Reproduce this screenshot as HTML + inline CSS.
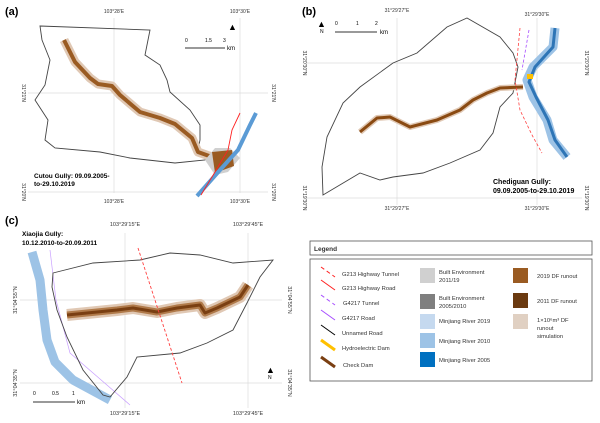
<!DOCTYPE html>
<html><head><meta charset="utf-8"><style>
body{margin:0;background:#fff}
svg{display:block;font-family:"Liberation Sans",sans-serif}
</style></head><body>
<svg width="600" height="423" viewBox="0 0 600 423">
<!-- Panel a -->
<g>
<text x="5" y="15" font-size="11" font-weight="bold">(a)</text>
<g stroke="#ddd" stroke-width="0.7">
<line x1="114" y1="18" x2="114" y2="193"/><line x1="240" y1="18" x2="240" y2="193"/>
<line x1="28" y1="93" x2="268" y2="93"/><line x1="28" y1="192" x2="268" y2="192"/>
</g>
<g font-size="5" fill="#333" text-anchor="middle">
<text x="114" y="13">103°28′E</text><text x="240" y="13">103°30′E</text>
<text x="114" y="203">103°28′E</text><text x="240" y="203">103°30′E</text>
<text transform="translate(22,93) rotate(90)">31°21′N</text>
<text transform="translate(272,93) rotate(90)">31°21′N</text>
<text transform="translate(22,192) rotate(90)">31°20′N</text>
<text transform="translate(272,192) rotate(90)">31°20′N</text>
</g>
<path d="M40,26 L150,30 L147,45 L145,55 L160,65 L167,80 L170,92 L190,110 L200,125 L200,140 L198,150 L210,155 L205,160 L175,163 L130,158 L100,152 L55,148 L45,140 L48,120 L35,100 L45,85 L50,60 L42,40 Z" fill="none" stroke="#444" stroke-width="0.9"/>
<path d="M64,40 L75,62 L90,78 L98,84 L112,86 L120,95 L140,112 L160,118 L175,124 L192,138 L198,152 L212,157" fill="none" stroke="#e0c8b4" stroke-width="9" stroke-linejoin="round"/>
<path d="M64,40 L75,62 L90,78 L98,84 L112,86 L120,95 L140,112 L160,118 L175,124 L192,138 L198,152 L212,157" fill="none" stroke="#9a5b22" stroke-width="4" stroke-linejoin="round"/>
<path d="M205,160 L215,148 L230,148 L240,158 L228,172 L215,175 Z" fill="#d0d0d0"/>
<path d="M212,152 L232,150 L234,166 L215,173 Z" fill="#9a5b22"/>
<path d="M197,196 L220,170 L238,150 L250,125 L256,113" fill="none" stroke="#5b9bd5" stroke-width="4"/>
<path d="M201,195 L215,172 L228,150 L232,130 L240,113" fill="none" stroke="#ff2020" stroke-width="0.9"/>
<g><line x1="185" y1="48" x2="225" y2="48" stroke="#333"/><text x="185" y="42" font-size="5">0</text><text x="205" y="42" font-size="5">1.5</text><text x="223" y="42" font-size="5">3</text><text x="227" y="50" font-size="6">km</text></g>
<text x="228" y="30" font-size="9">▲</text>
<text x="34" y="178" font-size="6.5" font-weight="bold">Cutou Gully: 09.09.2005-</text>
<text x="34" y="186" font-size="6.5" font-weight="bold">to-29.10.2019</text>
</g>
<!-- Panel b -->
<g>
<text x="302" y="15" font-size="11" font-weight="bold">(b)</text>
<g stroke="#ddd" stroke-width="0.7">
<line x1="397" y1="18" x2="397" y2="205"/><line x1="537" y1="18" x2="537" y2="205"/>
<line x1="306" y1="63" x2="582" y2="63"/><line x1="306" y1="198" x2="582" y2="198"/>
</g>
<g font-size="5" fill="#333" text-anchor="middle">
<text x="397" y="12">31°29′27″E</text><text x="537" y="16">31°29′30″E</text>
<text x="397" y="210">31°29′27″E</text><text x="537" y="210">31°29′30″E</text>
<text transform="translate(303,63) rotate(90)">31°20′30″N</text>
<text transform="translate(585,63) rotate(90)">31°20′30″N</text>
<text transform="translate(303,198) rotate(90)">31°19′30″N</text>
<text transform="translate(585,198) rotate(90)">31°19′30″N</text>
</g>
<path d="M323,195 L322,167 L327,137 L343,103 L360,87 L393,63 L417,53 L447,27 L467,18 L500,37 L513,53 L518,67 L513,93 L500,107 L493,133 L480,150 L450,163 L423,173 L393,177 L380,180 L360,173 Z" fill="none" stroke="#444" stroke-width="0.9"/>
<path d="M360,132 L377,118 L390,117 L410,127 L437,120 L460,110 L473,100 L487,93 L500,88 L523,87" fill="none" stroke="#e0c8b4" stroke-width="6" stroke-linejoin="round"/>
<path d="M360,132 L377,118 L390,117 L410,127 L437,120 L460,110 L473,100 L487,93 L500,88 L523,87" fill="none" stroke="#8a4a12" stroke-width="3" stroke-linejoin="round"/>
<path d="M555,28 L553,47 L533,67 L527,80 L533,97 L547,120 L553,140 L567,157" fill="none" stroke="#9dc3e6" stroke-width="9" stroke-linejoin="round"/>
<path d="M555,28 L553,47 L535,67 L529,82 L536,97 L548,120 L555,140 L567,157" fill="none" stroke="#2e75b6" stroke-width="3" stroke-linejoin="round"/>
<path d="M520,28 L515,80 L520,110 L532,135 L542,153" fill="none" stroke="#ff4040" stroke-width="0.8" stroke-dasharray="3,2"/>
<path d="M529,30 L522,70" fill="none" stroke="#a64dff" stroke-width="0.8" stroke-dasharray="3,2"/>
<rect x="527" y="74" width="6" height="5" fill="#ffc000"/>
<g><line x1="335" y1="32" x2="377" y2="32" stroke="#333"/><text x="335" y="25" font-size="5">0</text><text x="356" y="25" font-size="5">1</text><text x="375" y="25" font-size="5">2</text><text x="380" y="34" font-size="6">km</text></g>
<text x="317" y="27" font-size="9">▲</text>
<text x="320" y="33" font-size="5">N</text>
<text x="493" y="184" font-size="7" font-weight="bold">Chediguan Gully:</text>
<text x="493" y="193" font-size="7" font-weight="bold">09.09.2005-to-29.10.2019</text>
</g>
<!-- Panel c -->
<g>
<text x="5" y="224" font-size="11" font-weight="bold">(c)</text>
<g stroke="#ddd" stroke-width="0.7">
<line x1="125" y1="233" x2="125" y2="408"/><line x1="248" y1="233" x2="248" y2="408"/>
<line x1="20" y1="300" x2="282" y2="300"/><line x1="20" y1="383" x2="282" y2="383"/>
</g>
<g font-size="5.5" fill="#333" text-anchor="middle">
<text x="125" y="226">103°29′15″E</text><text x="248" y="226">103°29′45″E</text>
<text x="125" y="415">103°29′15″E</text><text x="248" y="415">103°29′45″E</text>
<text transform="translate(17,300) rotate(-90)">31°04′55″N</text>
<text transform="translate(288,300) rotate(90)">31°04′55″N</text>
<text transform="translate(17,383) rotate(-90)">31°04′35″N</text>
<text transform="translate(288,383) rotate(90)">31°04′35″N</text>
</g>
<text x="22" y="236" font-size="6.5" font-weight="bold">Xiaojia Gully:</text>
<text x="22" y="245" font-size="6.5" font-weight="bold">10.12.2010-to-20.09.2011</text>
<path d="M32,252 L40,280 L43,310 L47,340 L55,362 L73,380 L110,400" fill="none" stroke="#9dc3e6" stroke-width="9" stroke-linejoin="round"/>
<path d="M50,250 L56,300 L70,353 L130,405" fill="none" stroke="#c9a0ff" stroke-width="0.7"/>
<path d="M53,273 L93,263 L140,260 L170,253 L200,255 L233,263 L273,260 L260,277 L247,303 L233,330 L207,343 L180,353 L137,357 L127,377 L110,397 L103,395 L83,370 L67,337 L57,310 L52,287 Z" fill="none" stroke="#444" stroke-width="0.9"/>
<path d="M67,315 L87,313 L117,310 L133,308 L157,312 L177,308 L200,305 L205,313 L217,308 L240,297 L248,285" fill="none" stroke="#e0c8b4" stroke-width="12" stroke-linejoin="round"/>
<path d="M67,315 L87,313 L117,310 L133,308 L157,312 L177,308 L200,305 L205,313 L217,308 L240,297 L248,285" fill="none" stroke="#b07a4a" stroke-width="7" stroke-linejoin="round"/>
<path d="M67,315 L87,313 L117,310 L133,308 L157,312 L177,308 L200,305 L205,313 L217,308 L240,297 L248,285" fill="none" stroke="#7a3f12" stroke-width="3" stroke-linejoin="round"/>
<path d="M138,248 L182,383" fill="none" stroke="#ff4040" stroke-width="0.9" stroke-dasharray="3,2"/>
<g><line x1="33" y1="402" x2="75" y2="402" stroke="#333"/><text x="33" y="395" font-size="5">0</text><text x="52" y="395" font-size="5">0.5</text><text x="72" y="395" font-size="5">1</text><text x="77" y="404" font-size="6">km</text></g>
<text x="266" y="373" font-size="9">▲</text>
<text x="268" y="379" font-size="5">N</text>
</g>
<!-- Legend -->
<g font-size="5.8" fill="#333">
<rect x="310" y="241" width="282" height="14" fill="#fff" stroke="#555" stroke-width="0.8"/>
<text x="314" y="251" font-weight="bold" font-size="6.5">Legend</text>
<rect x="310" y="259" width="282" height="122" fill="#fff" stroke="#555" stroke-width="0.8"/>
<g><line x1="321" y1="267" x2="335" y2="277" stroke="#ff2020" stroke-dasharray="4,3"/><text x="342" y="276">G213 Highway Tunnel</text></g>
<g><line x1="321" y1="280" x2="335" y2="290" stroke="#ff2020"/><text x="342" y="290">G213 Highway Road</text></g>
<g><line x1="321" y1="295" x2="335" y2="305" stroke="#a64dff" stroke-dasharray="4,3"/><text x="343" y="305">G4217 Tunnel</text></g>
<g><line x1="321" y1="310" x2="335" y2="320" stroke="#a64dff"/><text x="342" y="320">G4217 Road</text></g>
<g><line x1="321" y1="325" x2="335" y2="335" stroke="#000"/><text x="342" y="335">Unnamed Road</text></g>
<g><line x1="321" y1="340" x2="335" y2="350" stroke="#ffc000" stroke-width="3"/><text x="342" y="350">Hydroelectric Dam</text></g>
<g><line x1="321" y1="357" x2="335" y2="367" stroke="#7a3f12" stroke-width="3"/><text x="343" y="367">Check Dam</text></g>
<g><rect x="420" y="268" width="15" height="15" fill="#d0d0d0"/><text x="439" y="274">Built Environment</text><text x="439" y="282">2011/19</text></g>
<g><rect x="420" y="294" width="15" height="15" fill="#7f7f7f"/><text x="439" y="300">Built Environment</text><text x="439" y="308">2005/2010</text></g>
<g><rect x="420" y="314" width="15" height="15" fill="#c5d9ef"/><text x="439" y="323">Minjiang River 2019</text></g>
<g><rect x="420" y="333" width="15" height="15" fill="#9dc3e6"/><text x="439" y="343">Minjiang River 2010</text></g>
<g><rect x="420" y="352" width="15" height="15" fill="#0070c0"/><text x="439" y="362">Minjiang River 2005</text></g>
<g><rect x="513" y="268" width="15" height="15" fill="#9a5b22"/><text x="537" y="278">2019 DF runout</text></g>
<g><rect x="513" y="293" width="15" height="15" fill="#6b3a10"/><text x="537" y="303">2011 DF runout</text></g>
<g><rect x="513" y="314" width="15" height="15" fill="#e0d0c2"/><text x="537" y="322">1×10⁶m³ DF</text><text x="537" y="330">runout</text><text x="537" y="338">simulation</text></g>
</g>
</svg>
</body></html>
